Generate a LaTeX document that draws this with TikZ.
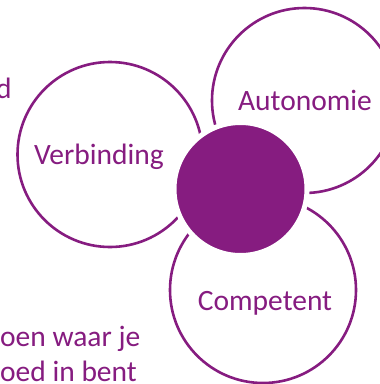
\documentclass[tikz,border=0pt]{standalone}
\usepackage{fontspec}
\setmainfont{Carlito}
\definecolor{purp}{RGB}{134,28,128}
\begin{document}
\begin{tikzpicture}[x=1pt,y=-1pt,
  ring/.style={circle,draw=purp,line width=2.6pt,fill=white,inner sep=0pt},
  hub/.style={circle,fill=purp,draw=white,line width=5pt,inner sep=0pt},
  lbl/.style={text=purp,font=\fontsize{29.5}{35}\selectfont,anchor=base,inner sep=0pt},
  side/.style={text=purp,font=\fontsize{29.5}{35}\selectfont,anchor=base west,inner sep=0pt}]
\useasboundingbox (0,0) rectangle (380,384);
\clip (0,0) rectangle (380,384);
\fill[white] (0,0) rectangle (380,384);
\node[ring,minimum size=185pt] (verb) at (110,154.5) {};
\node[ring,minimum size=185pt] (auto) at (304.5,100.5) {};
\node[ring,minimum size=186pt] (comp) at (263,290) {};
\node[hub,minimum size=133pt] (core) at (240.5,189) {};
\node[lbl] (tv) at (99,164.3) {Verbinding};
\node[lbl] (ta) at (305,110) {Autonomie};
\node[lbl] (tc) at (265,310) {Competent};
\node[side] (s1) at (-4,98.3) {d};
\node[side] (s2) at (0,346.7) {oen waar je};
\node[side] (s3) at (0,381.7) {oed in bent};
\end{tikzpicture}
\end{document}
